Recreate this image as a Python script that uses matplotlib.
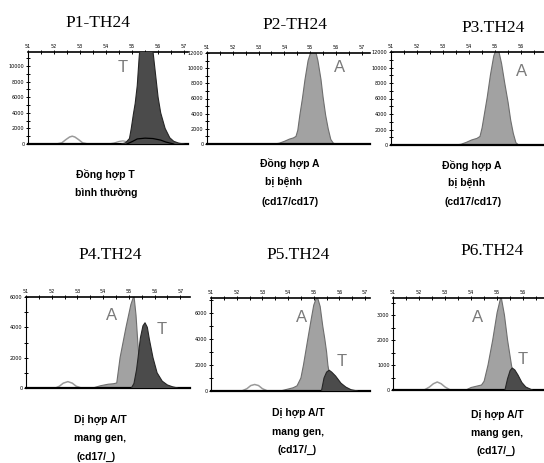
import matplotlib
matplotlib.use("Agg")
import matplotlib.pyplot as plt
from matplotlib.ticker import MultipleLocator

W, H = 544, 463

# --- data (temperature vs signal) ---
# P1: homozygous T
t1_x = [54.6, 54.75, 54.9, 54.97, 55.05, 55.12, 55.2, 55.27, 55.4, 55.55, 55.7, 55.8, 55.9, 56.0, 56.1, 56.27, 56.45, 56.6, 56.8, 57.0]
t1_y = [0, 150, 700, 2000, 3800, 5200, 7500, 11000, 16000, 18000, 16000, 12000, 9000, 6000, 4000, 2000, 800, 350, 100, 0]
w1_x = [52.1, 52.3, 52.45, 52.6, 52.7, 52.8, 52.95, 53.1, 53.3]
w1_y = [0, 150, 550, 900, 1000, 900, 550, 150, 0]
s1_x = [54.1, 54.3, 54.5, 54.65, 54.8, 54.95]
s1_y = [0, 120, 330, 400, 300, 0]
d1_x = [54.8, 55.0, 55.2, 55.5, 55.8, 56.1, 56.3, 56.6]
d1_y = [0, 300, 650, 750, 700, 500, 250, 0]

# P2, P3: homozygous A
a2_x = [53.6, 53.8, 54.0, 54.2, 54.35, 54.45, 54.52, 54.6, 54.7, 54.8, 54.92, 55.05, 55.2, 55.3, 55.42, 55.5, 55.6, 55.7, 55.8, 55.9, 56.0]
a2_y = [0, 100, 350, 650, 800, 1000, 1800, 3800, 6000, 8500, 11000, 12400, 12400, 11000, 8500, 6200, 3800, 2000, 600, 100, 0]
a3_x = [53.5, 53.7, 53.9, 54.1, 54.3, 54.42, 54.5, 54.6, 54.7, 54.82, 54.95, 55.05, 55.15, 55.25, 55.37, 55.5, 55.6, 55.7, 55.8, 55.9]
a3_y = [0, 100, 350, 650, 850, 1100, 2200, 4200, 6200, 9000, 11500, 12400, 12000, 10500, 8000, 5500, 3200, 1500, 300, 0]

# P4, P5, P6: heterozygous A/T
a4_x = [53.6, 53.9, 54.2, 54.4, 54.53, 54.66, 54.89, 55.08, 55.2, 55.28, 55.35, 55.42, 55.5, 55.6, 55.75]
a4_y = [0, 150, 250, 280, 330, 2000, 4000, 5500, 6100, 4800, 3000, 1500, 500, 150, 0]
t4_x = [55.1, 55.2, 55.3, 55.36, 55.45, 55.55, 55.63, 55.72, 55.8, 55.94, 56.1, 56.3, 56.5, 56.7, 56.9]
t4_y = [0, 300, 1200, 2000, 3300, 4100, 4300, 4000, 3200, 2000, 1000, 450, 200, 80, 0]
w4_x = [52.15, 52.3, 52.45, 52.63, 52.8, 52.95, 53.15]
w4_y = [0, 120, 320, 420, 320, 120, 0]

a5_x = [53.7, 54.0, 54.2, 54.35, 54.5, 54.6, 54.77, 54.9, 55.0, 55.13, 55.25, 55.35, 55.43, 55.5, 55.55, 55.65, 55.8]
a5_y = [0, 150, 250, 400, 1000, 2000, 4000, 5500, 6600, 7300, 6500, 5000, 4000, 3000, 2000, 800, 0]
t5_x = [55.3, 55.4, 55.5, 55.6, 55.7, 55.85, 56.06, 56.25, 56.45, 56.7]
t5_y = [0, 1000, 1450, 1600, 1450, 1150, 600, 300, 100, 0]
w5_x = [52.2, 52.4, 52.55, 52.7, 52.85, 53.0, 53.2]
w5_y = [0, 180, 420, 500, 420, 180, 0]

a6_x = [53.8, 54.0, 54.2, 54.4, 54.5, 54.65, 54.83, 55.0, 55.15, 55.28, 55.4, 55.55, 55.65, 55.8]
a6_y = [0, 100, 150, 200, 350, 1000, 2000, 3100, 3750, 3000, 2000, 1000, 400, 0]
t6_x = [55.3, 55.4, 55.5, 55.58, 55.68, 55.8, 55.95, 56.1, 56.35]
t6_y = [0, 450, 780, 880, 800, 600, 300, 120, 0]
w6_x = [52.2, 52.4, 52.55, 52.7, 52.85, 53.0, 53.2]
w6_y = [0, 120, 250, 320, 250, 120, 0]

titles = ["P1-TH24", "P2-TH24", "P3.TH24", "P4.TH24", "P5.TH24", "P6.TH24"]
captions = [
    ["Đồng hợp T", "bình thường"],
    ["Đồng hợp A", "bị bệnh", "(cd17/cd17)"],
    ["Đồng hợp A", "bị bệnh", "(cd17/cd17)"],
    ["Dị hợp A/T", "mang gen,", "(cd17/_)"],
    ["Dị hợp A/T", "mang gen,", "(cd17/_)"],
    ["Dị hợp A/T", "mang gen,", "(cd17/_)"],
]

T_FILL, T_EDGE = "#4b4b4b", "#262626"
A_FILL, A_EDGE = "#a2a2a2", "#6e6e6e"
W_EDGE = "#9a9a9a"
CAP_FONT = ["Liberation Sans", "DejaVu Sans"]


def px_axes(fig, l, r, t, b):
    return fig.add_axes([l / W, 1 - b / H, (r - l) / W, (b - t) / H])


def style(ax, xlim, ylim, ystep, yminor, last_tick=57):
    ax.set_xlim(*xlim)
    ax.set_ylim(*ylim)
    ax.xaxis.tick_top()
    ax.set_xticks(range(51, last_tick + 1))
    ax.xaxis.set_minor_locator(MultipleLocator(0.5))
    ax.yaxis.set_major_locator(MultipleLocator(ystep))
    ax.yaxis.set_minor_locator(MultipleLocator(yminor))
    ax.tick_params(which="both", direction="inout", length=3, width=0.7,
                   labelsize=3.5, pad=1)
    ax.tick_params(which="minor", length=2.5)
    ax.spines["right"].set_visible(False)
    ax.spines["top"].set_linewidth(1.2)
    ax.spines["left"].set_linewidth(0.8)
    ax.spines["bottom"].set_linewidth(1.6)
    ax.patch.set_alpha(0)


def peak(ax, x, y, fc, ec, lw=0.8, z=2):
    ax.fill_between(x, y, 0, facecolor=fc, edgecolor="none", zorder=z)
    ax.plot(x, y, color=ec, lw=lw, zorder=z + 0.1)


def ftext(fig, x, y, s, **kw):
    fig.text(x / W, 1 - y / H, s, ha="center", va="center", **kw)


fig = plt.figure(figsize=(W / 100, H / 100), dpi=100)

# row 1
ax1 = px_axes(fig, 28, 188, 52, 144)
style(ax1, (51.04, 57.15), (0, 11800), 2000, 1000)
peak(ax1, w1_x, w1_y, "white", W_EDGE, lw=1.1)
peak(ax1, s1_x, s1_y, "white", W_EDGE, lw=0.9)
peak(ax1, t1_x, t1_y, T_FILL, T_EDGE, z=3)
ax1.plot(d1_x, d1_y, color="black", lw=0.9, zorder=4)

ax2 = px_axes(fig, 207, 370, 53, 144)
style(ax2, (51.0, 57.32), (0, 12000), 2000, 1000)
peak(ax2, a2_x, a2_y, A_FILL, A_EDGE)

ax3 = px_axes(fig, 391, 544, 52, 145)
style(ax3, (51.04, 56.88), (0, 12000), 2000, 1000, last_tick=56)
peak(ax3, a3_x, a3_y, A_FILL, A_EDGE)

# row 2
ax4 = px_axes(fig, 26, 190, 297, 388)
style(ax4, (51.0, 57.38), (0, 6000), 2000, 1000)
peak(ax4, w4_x, w4_y, "white", W_EDGE, lw=1.1)
peak(ax4, a4_x, a4_y, A_FILL, A_EDGE)
peak(ax4, t4_x, t4_y, T_FILL, T_EDGE, z=3)

ax5 = px_axes(fig, 211, 370, 298, 391)
style(ax5, (51.0, 57.19), (0, 7150), 2000, 1000)
peak(ax5, w5_x, w5_y, "white", W_EDGE, lw=1.1)
peak(ax5, a5_x, a5_y, A_FILL, A_EDGE)
peak(ax5, t5_x, t5_y, T_FILL, T_EDGE, z=3)

ax6 = px_axes(fig, 393, 544, 298, 390)
style(ax6, (51.08, 56.8), (0, 3680), 1000, 500, last_tick=56)
peak(ax6, w6_x, w6_y, "white", W_EDGE, lw=1.1)
peak(ax6, a6_x, a6_y, A_FILL, A_EDGE)
peak(ax6, t6_x, t6_y, T_FILL, T_EDGE, z=3)

# titles
title_pos = [(98, 23), (295, 25), (493, 28), (110, 255), (298, 255), (492, 251)]
for (x, y), s in zip(title_pos, titles):
    ftext(fig, x, y, s, fontsize=12.5, family="Liberation Serif")

# captions under each panel
cap_pos = [
    [(105, 174), (106, 193)],
    [(290, 163), (284, 182), (290, 202)],
    [(472, 165), (467, 183), (473, 202)],
    [(100, 420), (100, 438), (96, 457)],
    [(298, 413), (298, 432), (297, 450)],
    [(497, 415), (497, 433), (496, 451)],
]
for pos, lines in zip(cap_pos, captions):
    for (x, y), s in zip(pos, lines):
        ftext(fig, x, y, s, fontsize=7.5, fontweight="bold", family=CAP_FONT)

# allele letters
letters = [("T", 123, 67), ("A", 340, 67), ("A", 522, 72),
           ("A", 112, 315), ("T", 162, 330), ("A", 302, 317),
           ("T", 342, 362), ("A", 478, 317), ("T", 523, 360)]
for s, x, y in letters:
    ftext(fig, x, y, s, fontsize=12, color="#7a7a7a", family=CAP_FONT)

fig.savefig("out.png", dpi=100)
